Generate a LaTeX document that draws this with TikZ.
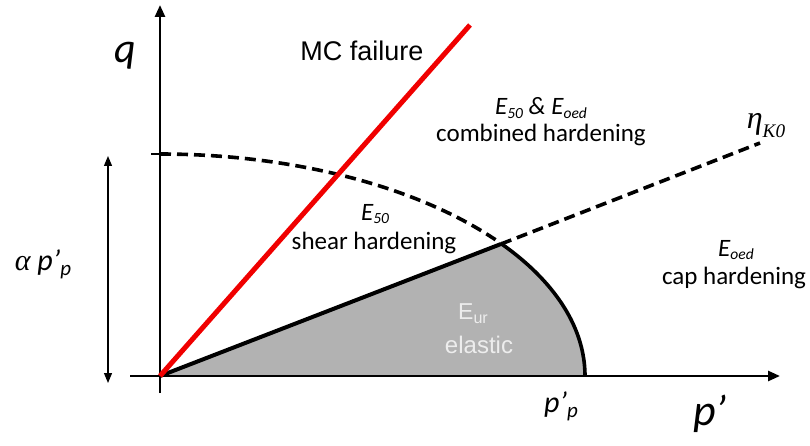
\documentclass[tikz,border=0pt]{standalone}
\usepackage{fontspec}
\setmainfont{Carlito}
\newfontfamily\arialf{Liberation Sans}
\newfontfamily\timesf{Liberation Serif}
\usetikzlibrary{arrows.meta}
\newcommand\lowsub[2][0.62]{\raisebox{-0.32ex}{\scalebox{#1}{#2}}}
\definecolor{mcred}{RGB}{240,0,0}
\definecolor{elgrey}{RGB}{178,178,178}
\begin{document}
\begin{tikzpicture}[x=1pt,y=-1pt,
  axis/.style={line width=2.6pt,-{Triangle[length=12pt,width=10pt]}},
  dashline/.style={line width=3.6pt,dash pattern=on 11pt off 6pt},
  label/.style={inner sep=0pt,align=center},
  lbl/.style={label,font=\fontsize{25}{26}\selectfont}]
\useasboundingbox (0,0) rectangle (810,446);
% key points
\coordinate (O) at (160,376);
\coordinate (qtop) at (160,5);
\coordinate (ybot) at (160,393);
\coordinate (xleft) at (130,376);
\coordinate (xend) at (780,376);
\coordinate (P) at (501,244);
\coordinate (K0end) at (760,143);
\coordinate (MCend) at (470,25);
\coordinate (tickL) at (151,154);
\coordinate (tickR) at (166,154);
\coordinate (da) at (108,156);
\coordinate (db) at (108,383);
% elastic region
\fill[elgrey] (O) -- (P) -- plot[domain=36.6:0,samples=40] ({160+425*cos(\x)},{376-222*sin(\x)}) -- cycle;
% axes
\draw[axis] (ybot) -- (qtop);
\draw[axis] (xleft) -- (xend);
\draw[line width=2.6pt] (tickL) -- (tickR);
% double arrow
\draw[line width=1.2pt,{Triangle[length=10pt,width=8pt]}-{Triangle[length=10pt,width=8pt]}] (da) -- (db);
% cap, dashed part
\draw[dashline] plot[domain=90:36.6,samples=60] ({160+425*cos(\x)},{376-222*sin(\x)});
% cap, solid part
\draw[line width=3.6pt] plot[domain=36.6:0,samples=40] ({160+425*cos(\x)},{376-222*sin(\x)});
% K0 line
\draw[line width=4pt] (O) -- (P);
\draw[dashline] (P) -- (K0end);
% MC failure line
\draw[mcred,line width=5pt] (O) -- (MCend);
% labels
\node[label,font=\fontsize{42}{42}\selectfont\itshape] (q) at (125,56) {q};
\node[label,font=\arialf\fontsize{27}{28}\selectfont] (mc) at (362,51) {MC failure};
\node[lbl] (comb1) at (541,108) {\textit{E\lowsub{50} \& E\lowsub{oed}}};
\node[lbl] (comb2) at (541,135) {combined hardening};
\node[lbl] (sh1) at (375,214) {\textit{E\lowsub{50}}};
\node[lbl] (sh2) at (374,243) {shear hardening};
\node[lbl] (cap1) at (736,250) {\textit{E\lowsub{oed}}};
\node[lbl] (cap2) at (734,278) {cap hardening};
\node[label,font=\timesf\fontsize{32}{32}\selectfont\itshape] (eta) at (766,126) {η\lowsub[0.6]{\raisebox{-0.5ex}{K0}}};
\node[label,font=\arialf\fontsize{23}{24}\selectfont,text=white!93!black] (eur) at (473,314) {E\lowsub[0.7]{ur}};
\node[label,font=\arialf\fontsize{24}{24}\selectfont,text=white!93!black] (ela) at (479,345) {elastic};
\node[label,font=\fontsize{30}{30}\selectfont] (alpha) at (43,264) {{\timesf\itshape α} \textit{p’\lowsub[0.7]{p}}};
\node[label,font=\fontsize{30}{30}\selectfont\itshape] (ppl) at (561,406) {p’\lowsub[0.7]{p}};
\node[label,font=\fontsize{44}{44}\selectfont\itshape] (pl) at (710,414) {p’};
\end{tikzpicture}
\end{document}
